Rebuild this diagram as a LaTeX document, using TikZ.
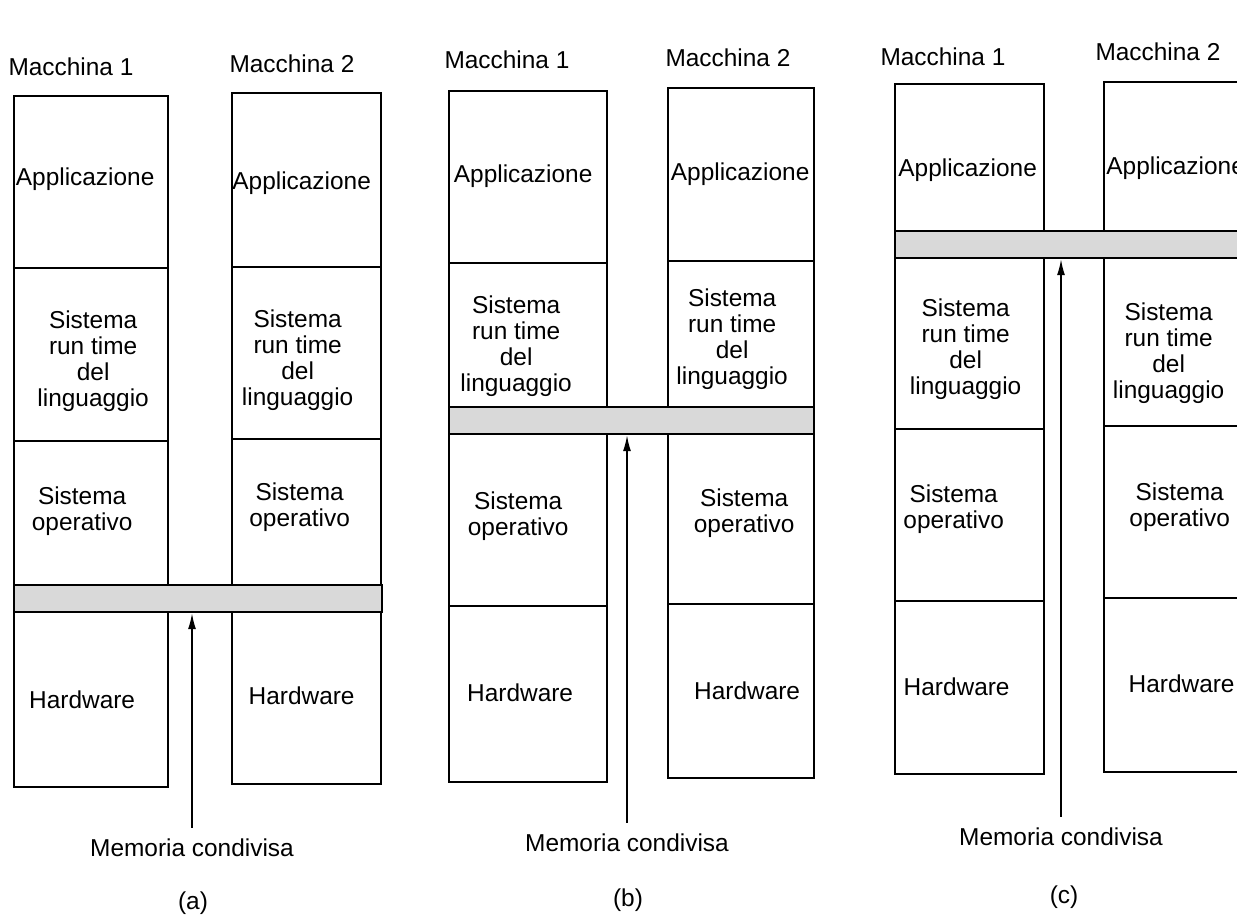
\documentclass[tikz,border=0pt]{standalone}
\usepackage{fontspec}
\setmainfont{Liberation Sans}
\usetikzlibrary{calc,arrows.meta}
\def\u{0.02cm}
% box of one level of a machine, text moved by #1 from its centre
\def\level[#1](#2,#3)(#4,#5)#6#7{%
  \node[stackbox, minimum width={(#4-#2)*\u}, minimum height={(#5-#3)*\u}] (#6) at (#2,#3) {};
  \node[txt] (#6t) at ($(#6.center)+(#1)$) {#7};}

\begin{document}
\begin{tikzpicture}[x=\u, y=-\u,
    stackbox/.style={draw, line width=1.3pt, inner sep=0pt, anchor=north west},
    membar/.style={draw, fill=gray!30, line width=1.3pt, inner sep=0pt, anchor=north west},
    txt/.style={inner sep=0pt, align=center, font=\fontsize{13.9pt}{14.8pt}\selectfont},
    memarrow/.style={line width=0.8pt, -{Latex[length=9pt,width=4.5pt]}, shorten <=0.22cm}]
  \useasboundingbox (0,0) rectangle (1237,921);
  \clip (0,0) rectangle (1237,921);

  % (a)
  \node[txt, anchor=base] (am1) at (71,75) {Macchina 1};
  \node[txt, anchor=base] (am2) at (292,72) {Macchina 2};
  \level[-6,-3](13,95)(167,267){aoneapp}{Applicazione}
  \level[2,7](13,267)(167,440){aonelrs}{Sistema\\run time\\del\\linguaggio}
  \level[-9,-2](13,440)(167,584){aoneos}{Sistema\\operativo}
  \level[-9,0](13,611)(167,786){aonehw}{Hardware}
  \level[-5,3](231,92)(380,266){atwoapp}{Applicazione}
  \level[-9,7](231,266)(380,438){atwolrs}{Sistema\\run time\\del\\linguaggio}
  \level[-7,-5](231,438)(380,584){atwoos}{Sistema\\operativo}
  \level[-5,-2](231,611)(380,783){atwohw}{Hardware}
  \node[membar, minimum width={368*\u}, minimum height={27*\u}] (abar) at (13,584) {};
  \node[txt] (amem) at (192,848) {Memoria condivisa};
  \draw[memarrow] (amem.north) -- (amem.north |- abar.south);
  \node[txt] (acap) at (193,903) {(a)};

  % (b)
  \node[txt, anchor=base] (bm1) at (507,68) {Macchina 1};
  \node[txt, anchor=base] (bm2) at (728,66) {Macchina 2};
  \level[-5,-1](448,90)(606,262){boneapp}{Applicazione}
  \level[-12,11](448,262)(606,406){bonelrs}{Sistema\\run time\\del\\linguaggio}
  \level[-10,-4](448,433)(606,605){boneos}{Sistema\\operativo}
  \level[-8,-1](448,605)(606,781){bonehw}{Hardware}
  \level[-1,0](667,87)(813,260){btwoapp}{Applicazione}
  \level[-9,5](667,260)(813,406){btwolrs}{Sistema\\run time\\del\\linguaggio}
  \level[3,-6](667,433)(813,603){btwoos}{Sistema\\operativo}
  \level[6,0](667,603)(813,777){btwohw}{Hardware}
  \node[membar, minimum width={365*\u}, minimum height={27*\u}] (bbar) at (448,406) {};
  \node[txt] (bmem) at (627,843) {Memoria condivisa};
  \draw[memarrow] (bmem.north) -- (bmem.north |- bbar.south);
  \node[txt] (bcap) at (628,900) {(b)};

  % (c)
  \node[txt, anchor=base] (cm1) at (943,65) {Macchina 1};
  \node[txt, anchor=base] (cm2) at (1158,60) {Macchina 2};
  \level[-2,13](894,83)(1043,230){coneapp}{Applicazione}
  \level[-4,6](894,257)(1043,428){conelrs}{Sistema\\run time\\del\\linguaggio}
  \level[-16,-6](894,428)(1043,600){coneos}{Sistema\\operativo}
  \level[-13,-1](894,600)(1043,773){conehw}{Hardware}
  \level[2,12](1103,81)(1242,230){ctwoapp}{Applicazione}
  \level[-5,11](1103,257)(1242,425){ctwolrs}{Sistema\\run time\\del\\linguaggio}
  \level[6,-5](1103,425)(1242,597){ctwoos}{Sistema\\operativo}
  \level[8,-1](1103,597)(1242,771){ctwohw}{Hardware}
  \node[membar, minimum width={360*\u}, minimum height={27*\u}] (cbar) at (894,230) {};
  \node[txt] (cmem) at (1061,837) {Memoria condivisa};
  \draw[memarrow] (cmem.north) -- (cmem.north |- cbar.south);
  \node[txt] (ccap) at (1064,897) {(c)};
\end{tikzpicture}
\end{document}
